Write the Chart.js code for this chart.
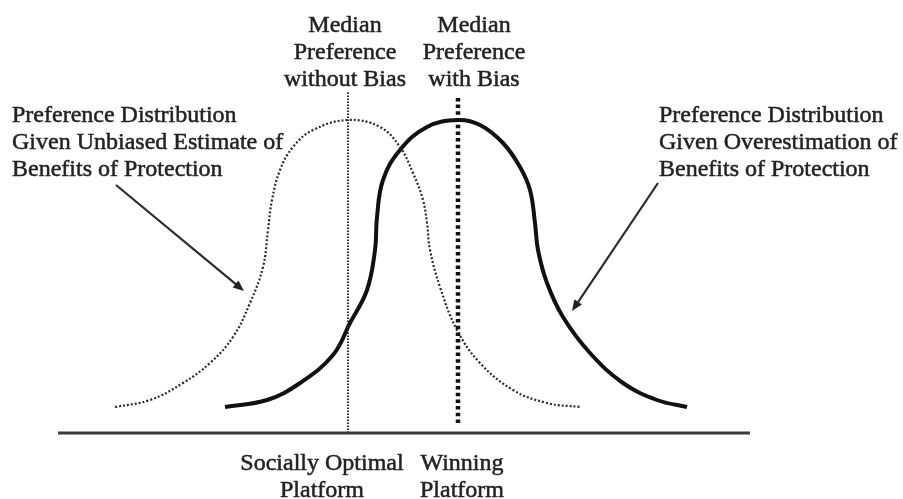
<!DOCTYPE html>
<html>
<head>
<meta charset="utf-8">
<script src="https://cdn.jsdelivr.net/npm/chart.js@4"></script>
<style>
  html, body { margin: 0; padding: 0; background: #fff; }
  canvas { display: block; }
</style>
</head>
<body>
<canvas id="grafico" width="903" height="499"></canvas>
<script>
// policy space runs left to right, density measured up from the baseline
const unbiasedX = [115, 150, 183, 210, 233, 250, 263, 268, 272, 280, 293, 313, 348, 380, 400, 413, 423, 427, 430, 440, 457, 480, 513, 547, 580];
const unbiasedY = [26, 33, 50, 70, 96, 130, 166, 203, 233, 263, 286, 303, 313, 306, 286, 260, 233, 210, 183, 146, 103, 70, 43, 30, 26];

const biasedX = [225, 267, 300, 333, 350, 367, 375, 377, 383, 400, 427, 458, 480, 503, 520, 530, 535, 538, 547, 563, 590, 623, 657, 687];
const biasedY = [26, 33, 50, 78, 110, 143, 183, 216, 253, 283, 306, 313, 308, 290, 266, 243, 210, 183, 150, 116, 80, 50, 33, 26];

const baselineX = [58, 750];
const medianNoBias = 348;
const medianBias = 458;

const labelUnbiased = ["Preference Distribution", "Given Unbiased Estimate of", "Benefits of Protection"];
const labelBiased = ["Preference Distribution", "Given Overestimation of", "Benefits of Protection"];
const labelMedianNoBias = ["Median", "Preference", "without Bias"];
const labelMedianBias = ["Median", "Preference", "with Bias"];
const labelOptimal = ["Socially Optimal", "Platform"];
const labelWinning = ["Winning", "Platform"];

const pts = (xs, ys) => xs.map((x, i) => ({ x, y: ys[i] }));

// where the text blocks and arrows go (chart units)
const textBlocks = [
  { lines: labelMedianNoBias, x: 345, y: 407, align: "center" },
  { lines: labelMedianBias, x: 474, y: 407, align: "center" },
  { lines: labelUnbiased, x: 12, y: 317, align: "left" },
  { lines: labelBiased, x: 659, y: 317, align: "left" },
  { lines: labelOptimal, x: 322, y: -31, align: "center" },
  { lines: labelWinning, x: 462, y: -31, align: "center" },
];
const arrows = [
  { from: [116, 248], to: [244, 142] },
  { from: [658, 250], to: [572, 122] },
];

const anotacoes = {
  id: "anotacoes",
  afterDatasetsDraw(chart) {
    const { ctx, scales: { x, y } } = chart;
    ctx.save();
    ctx.fillStyle = "#222";
    ctx.strokeStyle = "#222";
    ctx.lineWidth = 0.5;
    ctx.font = "24px 'Liberation Serif', 'Times New Roman', serif";
    ctx.textBaseline = "middle";
    textBlocks.forEach(b => {
      ctx.textAlign = b.align;
      b.lines.forEach((t, i) => {
        const px = x.getPixelForValue(b.x), py = y.getPixelForValue(b.y) + i * 27;
        ctx.fillText(t, px, py);
        ctx.strokeText(t, px, py);
      });
    });

    ctx.strokeStyle = "#2b2b2b";
    ctx.lineWidth = 2.2;
    arrows.forEach(a => {
      const x1 = x.getPixelForValue(a.from[0]), y1 = y.getPixelForValue(a.from[1]);
      const x2 = x.getPixelForValue(a.to[0]), y2 = y.getPixelForValue(a.to[1]);
      const ang = Math.atan2(y2 - y1, x2 - x1);
      ctx.beginPath();
      ctx.moveTo(x1, y1);
      ctx.lineTo(x2 - 6 * Math.cos(ang), y2 - 6 * Math.sin(ang));
      ctx.stroke();
      ctx.beginPath();
      ctx.moveTo(x2, y2);
      ctx.lineTo(x2 - 11 * Math.cos(ang) + 4.5 * Math.sin(ang), y2 - 11 * Math.sin(ang) - 4.5 * Math.cos(ang));
      ctx.lineTo(x2 - 11 * Math.cos(ang) - 4.5 * Math.sin(ang), y2 - 11 * Math.sin(ang) + 4.5 * Math.cos(ang));
      ctx.closePath();
      ctx.fill();
    });
    ctx.restore();
  }
};

new Chart(document.getElementById("grafico").getContext("2d"), {
  type: "scatter",
  data: {
    datasets: [
      {
        label: "Baseline",
        data: pts(baselineX, [0, 0]),
        showLine: true, borderColor: "#3a3a3a", borderWidth: 3, pointRadius: 0,
      },
      {
        label: "Median Preference without Bias",
        data: pts([medianNoBias, medianNoBias], [0, 341]),
        showLine: true, borderColor: "#2a2a2a", borderWidth: 2, borderDash: [1.5, 1.5], pointRadius: 0,
      },
      {
        label: "Median Preference with Bias",
        data: pts([medianBias, medianBias], [10, 338]),
        showLine: true, borderColor: "#111", borderWidth: 4.5, borderDash: [3.5, 3.2], pointRadius: 0,
      },
      {
        label: "Unbiased",
        data: pts(unbiasedX, unbiasedY),
        showLine: true, borderColor: "#2a2a2a", borderWidth: 2.2, borderDash: [2, 2], pointRadius: 0, tension: 0.4,
      },
      {
        label: "Overestimation",
        data: pts(biasedX, biasedY),
        showLine: true, borderColor: "#111", borderWidth: 4, pointRadius: 0, tension: 0.4,
      },
    ]
  },
  options: {
    responsive: false,
    animation: false,
    layout: { padding: 0 },
    plugins: { legend: { display: false }, tooltip: { enabled: false } },
    scales: {
      x: { type: "linear", min: 0, max: 903, display: false },
      y: { type: "linear", min: -66, max: 433, display: false }
    }
  },
  plugins: [anotacoes]
});
</script>
</body>
</html>
